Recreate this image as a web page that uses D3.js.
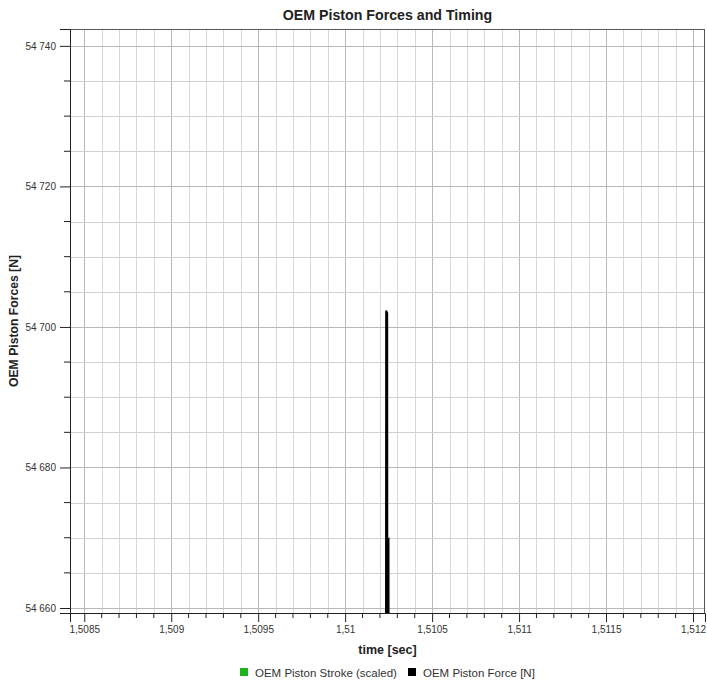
<!DOCTYPE html>
<html>
<head>
<meta charset="utf-8">
<script src="https://cdn.jsdelivr.net/npm/d3@7"></script>
<style>
  html, body { margin: 0; padding: 0; background: #fff; }
  svg { display: block; font-family: "Liberation Sans", Arial, sans-serif; }
</style>
</head>
<body>
<svg id="chart" width="707" height="685"></svg>
<script>
// ---- data ----
const title = "OEM Piston Forces and Timing";
const xLabel = "time [sec]";
const yLabel = "OEM Piston Forces [N]";
const xDomain = [1.508418, 1.512069];
const yDomain = [54659.29, 54742.4];
const xTickValues = [1.5085, 1.509, 1.5095, 1.51, 1.5105, 1.511, 1.5115, 1.512];
const xTickLabels = ["1,5085", "1,509", "1,5095", "1,51", "1,5105", "1,511", "1,5115", "1,512"];
const yTickValues = [54660, 54680, 54700, 54720, 54740];
const yTickLabels = ["54 660", "54 680", "54 700", "54 720", "54 740"];
// OEM Piston Force [N] samples (time, force)
const forceTime  = [1.5102345, 1.5102355, 1.5102420, 1.5102430, 1.5102495, 1.5102505];
const forceValue = [54640,     54702.3,   54702.0,   54640,     54670,     54640];
// OEM Piston Stroke (scaled): no samples fall inside the visible window
const strokeTime = [];
const strokeValue = [];
const seriesNames = ["OEM Piston Stroke (scaled)", "OEM Piston Force [N]"];
const seriesColors = ["#1db31d", "#000000"];

// ---- layout ----
const svg = d3.select("#chart");
const L = 70, R = 705, T = 29, B = 613;
const x = d3.scaleLinear().domain(xDomain).range([L, R]);
const y = d3.scaleLinear().domain(yDomain).range([B, T]);

// minor/major grid values
const xMinor = d3.range(0, 37).map(i => +(1.5085 + i * 0.0001).toFixed(4)).filter(v => v >= xDomain[0] && v <= xDomain[1]);
const yMinor = d3.range(0, 17).map(i => 54660 + i * 5).filter(v => v >= yDomain[0] && v <= yDomain[1]);
const isMajorX = v => xTickValues.some(t => Math.abs(t - v) < 1e-9);
const isMajorY = v => yTickValues.includes(v);

const grid = svg.append("g");
grid.selectAll("line.vx").data(xMinor).join("line")
  .attr("x1", d => Math.round(x(d)) + 0.5).attr("x2", d => Math.round(x(d)) + 0.5)
  .attr("y1", T).attr("y2", B)
  .attr("stroke", d => isMajorX(d) ? "#b8b8b8" : "#d8d8d8").attr("stroke-width", 1);
grid.selectAll("line.hy").data(yMinor).join("line")
  .attr("y1", d => Math.round(y(d)) + 0.5).attr("y2", d => Math.round(y(d)) + 0.5)
  .attr("x1", L).attr("x2", R)
  .attr("stroke", d => isMajorY(d) ? "#b8b8b8" : "#d0d0d0").attr("stroke-width", 1);

// clip
svg.append("clipPath").attr("id", "clip").append("rect")
  .attr("x", L).attr("y", T).attr("width", R - L).attr("height", B - T);

const line = d3.line().x(d => x(d[0])).y(d => y(d[1]));
const plot = svg.append("g").attr("clip-path", "url(#clip)");
plot.append("path").datum(d3.zip(strokeTime, strokeValue))
  .attr("d", line).attr("fill", "none").attr("stroke", seriesColors[0]).attr("stroke-width", 1.5);
plot.append("path").datum(d3.zip(forceTime, forceValue))
  .attr("d", line).attr("fill", "none").attr("stroke", seriesColors[1]).attr("stroke-width", 1.9);

// frame
svg.append("rect").attr("x", L + 0.5).attr("y", T + 0.5).attr("width", R - L - 1).attr("height", B - T)
  .attr("fill", "none").attr("stroke", "#555").attr("stroke-width", 1);

// axes
const xAxis = d3.axisBottom(x).tickValues(xTickValues)
  .tickFormat((d, i) => xTickLabels[i]).tickSize(9).tickPadding(4);
const gx = svg.append("g").attr("transform", `translate(0,${B})`).call(xAxis);
gx.select(".domain").attr("stroke", "#222");
gx.selectAll(".tick line").attr("stroke", "#222");
gx.selectAll("text").attr("font-size", 10).attr("fill", "#333").attr("font-family", "Liberation Sans, Arial, sans-serif");
gx.selectAll(".minor").data(xMinor.filter(v => !isMajorX(v))).join("line")
  .attr("class", "minor")
  .attr("x1", d => x(d)).attr("x2", d => x(d)).attr("y1", 0).attr("y2", 5)
  .attr("stroke", "#222");

const yAxis = d3.axisLeft(y).tickValues(yTickValues)
  .tickFormat((d, i) => yTickLabels[i]).tickSize(10).tickPadding(4);
const gy = svg.append("g").attr("transform", `translate(${L},0)`).call(yAxis);
gy.select(".domain").attr("stroke", "#222");
gy.selectAll(".tick line").attr("stroke", "#222");
gy.selectAll("text").attr("font-size", 10).attr("fill", "#333").attr("font-family", "Liberation Sans, Arial, sans-serif");
gy.selectAll(".minor").data(yMinor.filter(v => !isMajorY(v))).join("line")
  .attr("class", "minor")
  .attr("y1", d => y(d)).attr("y2", d => y(d)).attr("x1", 0).attr("x2", -6)
  .attr("stroke", "#222");

// titles
svg.append("text").attr("x", (L + R) / 2).attr("y", 20).attr("text-anchor", "middle")
  .attr("font-size", 14.2).attr("font-weight", "bold").attr("fill", "#222").text(title);
svg.append("text").attr("x", (L + R) / 2).attr("y", 654).attr("text-anchor", "middle")
  .attr("font-size", 12.5).attr("font-weight", "bold").attr("fill", "#222").text(xLabel);
svg.append("text").attr("transform", `translate(18,${(T + B) / 2}) rotate(-90)`).attr("text-anchor", "middle")
  .attr("font-size", 12.2).attr("font-weight", "bold").attr("fill", "#222").text(yLabel);

// legend
const legendX = [240, 408];
const lg = svg.append("g");
seriesNames.forEach((name, i) => {
  lg.append("rect").attr("x", legendX[i]).attr("y", 668).attr("width", 8).attr("height", 8)
    .attr("fill", seriesColors[i]);
  lg.append("text").attr("x", legendX[i] + 15).attr("y", 676.5)
    .attr("font-size", 11.5).attr("fill", "#333").text(name);
});
</script>
</body>
</html>
